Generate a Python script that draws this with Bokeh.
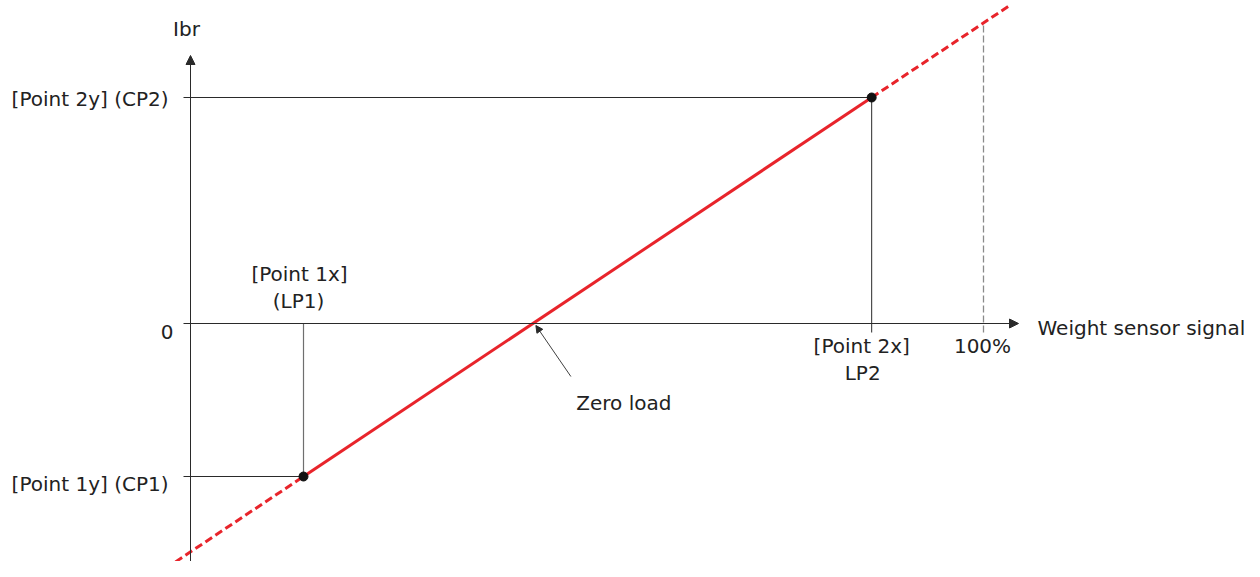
from bokeh.plotting import figure
from bokeh.models import Range1d, Arrow, NormalHead
from bokeh.core.properties import value
from bokeh.embed import file_html
from bokeh.resources import INLINE

# ---- data (signal in %, Ibr in relative units) ----
point_names = ["Point 1", "Point 2"]
signal_pts = [14.25, 85.9]      # LP1, LP2  (% of weight sensor signal)
ibr_pts = [-67.7, 100.0]        # CP1, CP2
full_scale = [100.0]            # 100 %
y_labels = ["[Point 2y] (CP2)", "0", "[Point 1y] (CP1)"]
x_labels_top = ["[Point 1x]", "(LP1)"]
x_labels_bottom = ["[Point 2x]", "LP2", "100%"]
axis_titles = ["Ibr", "Weight sensor signal"]
annotation = ["Zero load"]

# ---- scale (pixels per unit) and origin in the figure ----
PXX, PXY = 7.93, 2.26
OX, OY = 190.0, 323.0
W, H = 1244, 561

def ux(px):
    return px / PXX

def uy(px):
    return px / PXY

LP1, LP2 = signal_pts
CP1, CP2 = ibr_pts
slope = (CP2 - CP1) / (LP2 - LP1)

def line_y(x):
    return CP1 + slope * (x - LP1)

zero_x = LP1 - CP1 / slope

p = figure(width=W, height=H, output_backend="svg", toolbar_location=None,
           x_range=Range1d((0 - OX) / PXX, (W - OX) / PXX),
           y_range=Range1d((OY - H) / PXY, OY / PXY),
           min_border=0)
p.xaxis.visible = False
p.yaxis.visible = False
p.grid.visible = False
p.outline_line_color = None
p.background_fill_color = "white"
p.border_fill_color = "white"

ink = "#2a2a2a"
red = "#e8242b"
font = value("DejaVu Sans")
fs = "20px"

# guide lines
tick_x = ux(7)
tick_y = uy(9)
p.segment(x0=[-tick_x, -tick_x], y0=[CP2, CP1], x1=[LP2, LP1], y1=[CP2, CP1],
          line_color=ink, line_width=1)
p.segment(x0=[LP2], y0=[-tick_y], x1=[LP2], y1=[CP2], line_color=ink, line_width=1)
p.segment(x0=[LP1], y0=[0], x1=[LP1], y1=[CP1], line_color="#6f6f6f", line_width=1.2)
p.segment(x0=full_scale, y0=[-tick_y], x1=full_scale, y1=[line_y(full_scale[0])],
          line_color="#8a8a8a", line_width=1.3, line_dash="7 3")

# axes with arrows
x_tip = ux(1018 - OX)
y_tip = uy(OY - 55)
p.add_layout(Arrow(x_start=-tick_x, y_start=0, x_end=x_tip, y_end=0,
                   line_color=ink, line_width=1,
                   end=NormalHead(size=9, fill_color=ink, line_color=ink)))
p.add_layout(Arrow(x_start=0, y_start=uy(OY - 575), x_end=0, y_end=y_tip,
                   line_color=ink, line_width=1,
                   end=NormalHead(size=9, fill_color=ink, line_color=ink)))

# red characteristic line
x_lo = ux(155 - OX)
x_hi = ux(1008 - OX)
p.line([LP1, LP2], [CP1, CP2], line_color=red, line_width=3)
p.line([x_lo, LP1], [line_y(x_lo), CP1], line_color=red, line_width=3, line_dash="8 4")
p.line([LP2, x_hi], [CP2, line_y(x_hi)], line_color=red, line_width=3, line_dash="8 4")

# calibration points
p.scatter(signal_pts, ibr_pts, size=9, fill_color="#111111", line_color="#111111")

# zero load arrow
p.add_layout(Arrow(x_start=zero_x + ux(38), y_start=-uy(53), x_end=zero_x + ux(3), y_end=-uy(2),
                   line_color=ink, line_width=0.9,
                   end=NormalHead(size=7, fill_color=ink, line_color=ink)))

def txt(x, y, s, align):
    p.text(x=[x], y=[y], text=[s], text_font=font, text_font_size=fs,
           text_color="#222222", text_align=align, text_baseline="alphabetic")

# axis titles
txt(-ux(4), y_tip + uy(27), axis_titles[0], "center")
txt(x_tip + ux(19), -uy(4), axis_titles[1], "left")

# y labels
txt(-ux(22), CP2 - uy(1), y_labels[0], "right")
txt(-ux(17), -uy(8), y_labels[1], "right")
txt(-ux(22), CP1 - uy(7), y_labels[2], "right")

# x labels
txt(LP1 - ux(4), uy(50), x_labels_top[0], "center")
txt(LP1 - ux(5), uy(23), x_labels_top[1], "center")
txt(LP2 - ux(10), -uy(22), x_labels_bottom[0], "center")
txt(LP2 - ux(9), -uy(49), x_labels_bottom[1], "center")
txt(full_scale[0] - ux(1), -uy(22), x_labels_bottom[2], "center")

# annotation
txt(zero_x + ux(91), -uy(79), annotation[0], "center")

open("out.html", "w").write(file_html(p, INLINE))
